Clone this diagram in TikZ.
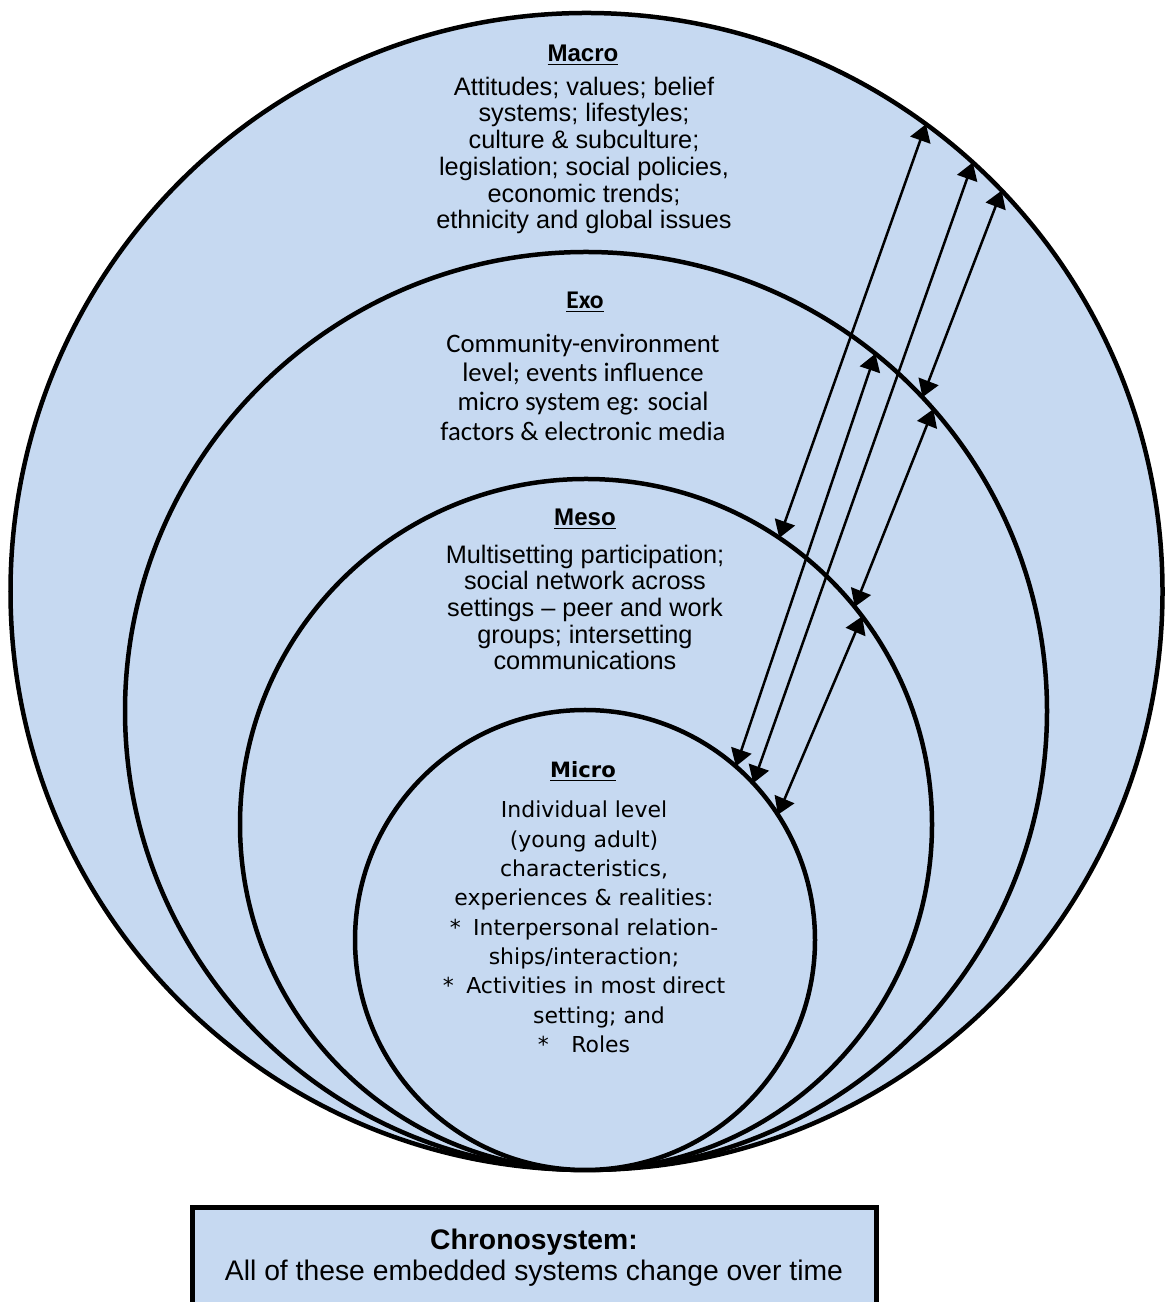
\documentclass[tikz,border=0pt]{standalone}
\usepackage{fontspec}
\setmainfont{Liberation Sans}
\newfontfamily\exofont{Carlito}
\newfontfamily\microfont{DejaVu Sans}
\usetikzlibrary{shapes.geometric,arrows.meta}
\definecolor{sysblue}{RGB}{198,217,241}

\begin{document}
\begin{tikzpicture}
[
system/.style={ellipse, draw, fill=sysblue, line width=0.09cm, inner sep=0pt, outer sep=0pt},
link/.style={line width=0.05cm, {Triangle[length=0.34cm,width=0.42cm]}-{Triangle[length=0.34cm,width=0.42cm]}},
heading/.style={font=\bfseries\fontsize{13.7}{15}\selectfont},
body/.style={align=center, font=\fontsize{14.4}{15.2}\selectfont},
]
\useasboundingbox (0,0) rectangle (23.28,26.04);
% nested systems, all touching at the bottom
\node[system, minimum width=23.04cm, minimum height=23.14cm] (macro) at (11.73,14.21) {};
\node[system, minimum width=18.44cm, minimum height=18.36cm] (exo) at (11.72,11.82) {};
\node[system, minimum width=13.84cm, minimum height=13.82cm] (meso) at (11.72,9.55) {};
\node[system, minimum width=9.2cm, minimum height=9.2cm] (micro) at (11.70,7.24) {};
% texts
\node[heading] (macrohead) at (11.66,24.94) {\underline{Macro}};
\node[body] (macrotext) at (11.68,22.93) {Attitudes; values; belief\\ systems; lifestyles;\\ culture \& subculture;\\ legislation; social policies,\\ economic trends;\\ ethnicity and global issues};
\node[heading, font=\exofont\bfseries\fontsize{14.5}{16}\selectfont] (exohead) at (11.70,20.00) {\underline{Exo}};
\node[body, font=\exofont\fontsize{15.2}{16.7}\selectfont] (exotext) at (11.66,18.30) {Community-environment\\ level; events influence\\ micro system eg: social\\ factors \& electronic media};
\node[heading] (mesohead) at (11.70,15.66) {\underline{Meso}};
\node[body] (mesotext) at (11.70,13.89) {Multisetting participation;\\ social network across\\ settings – peer and work\\ groups; intersetting\\ communications};
\node[heading, font=\microfont\bfseries\fontsize{12}{14}\selectfont] (microhead) at (11.66,10.62) {\underline{Micro}};
\node[body, font=\microfont\fontsize{12.5}{16.7}\selectfont] (microtext) at (11.68,7.50) {Individual level\\ (young adult)\\ characteristics,\\ experiences \& realities:\\ *\hspace{0.25cm}Interpersonal relation-\\ ships/interaction;\\ *\hspace{0.25cm}Activities in most direct\\ \hspace*{0.6cm}setting; and\\ *\hspace{0.45cm}Roles};
% links between the systems
\draw[link] (macro.54) -- (meso.56);
\draw[link] (exo.51) -- (micro.49.5);
\draw[link] (macro.48) -- (micro.43);
\draw[link] (macro.44) -- (exo.43);
\draw[link] (exo.41.6) -- (meso.39.3);
\draw[link] (meso.37.6) -- (micro.33.6);
% chronosystem
\node[draw, fill=sysblue, line width=0.1cm, minimum width=13.68cm, minimum height=2cm, anchor=north, align=center, font=\fontsize{16.1}{17.6}\selectfont] (chrono) at (10.68,1.94) {\textbf{Chronosystem:}\\ All of these embedded systems change over time};
\end{tikzpicture}
\end{document}
